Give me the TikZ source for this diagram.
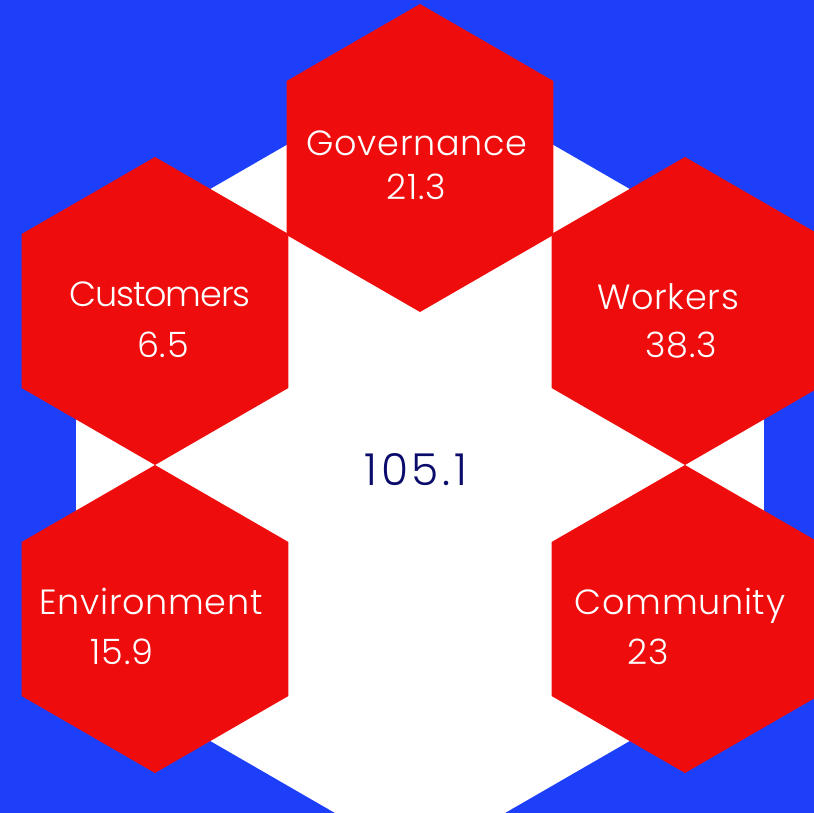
\documentclass[tikz,border=0pt]{standalone}
\usepackage{fontspec}
\setmainfont{Poppins}[UprightFont={* Light}]
\definecolor{bgblue}{HTML}{1D3FFA}
\definecolor{hexred}{HTML}{EE0C0C}
\definecolor{hexwhite}{HTML}{FFFFFF}
\definecolor{navy}{HTML}{0B0B6B}
\newcommand{\hexpath}[3]{% centre x, centre y, circumradius
  (#1,#2) +(90:#3) -- +(150:#3) -- +(210:#3) -- +(270:#3) -- +(330:#3) -- +(30:#3) -- cycle}
\begin{document}
\begin{tikzpicture}[x=1pt,y=-1pt,
  label/.style={text=white,font=\fontsize{35}{40}\selectfont\addfontfeatures{LetterSpace=2},anchor=base,inner sep=0pt},
  tightlabel/.style={label,font=\fontsize{35}{40}\selectfont\addfontfeatures{LetterSpace=-3}},
  total/.style={text=navy,font=\fontsize{44}{50}\selectfont\addfontfeatures{LetterSpace=8},anchor=base,inner sep=0pt}]
  \useasboundingbox (0,0) rectangle (814,813);
  % background
  \fill[bgblue] (0,0) rectangle (814,813);
  % large central hexagon
  \fill[hexwhite] \hexpath{420}{465}{397};
  % ring of segment hexagons
  \fill[hexred] \hexpath{420}{158}{154};
  \fill[hexred] \hexpath{155}{311}{154};
  \fill[hexred] \hexpath{685}{311}{154};
  \fill[hexred] \hexpath{155}{619}{154};
  \fill[hexred] \hexpath{685}{619}{154};
  % labels
  \node[label] (govT) at (417,156) {Governance};
  \node[label] (govV) at (416,200) {21.3};
  \node[tightlabel] (cusT) at (160,306) {Customers};
  \node[label] (cusV) at (163,357) {6.5};
  \node[label] (wrkT) at (668,309) {Workers};
  \node[label] (wrkV) at (681,357) {38.3};
  \node[label] (envT) at (151,614) {Environment};
  \node[label] (envV) at (122,664) {15.9};
  \node[label] (comT) at (680,614) {Community};
  \node[label] (comV) at (648,664) {23};
  \node[total] (sum) at (416,485) {105.1};
\end{tikzpicture}
\end{document}
